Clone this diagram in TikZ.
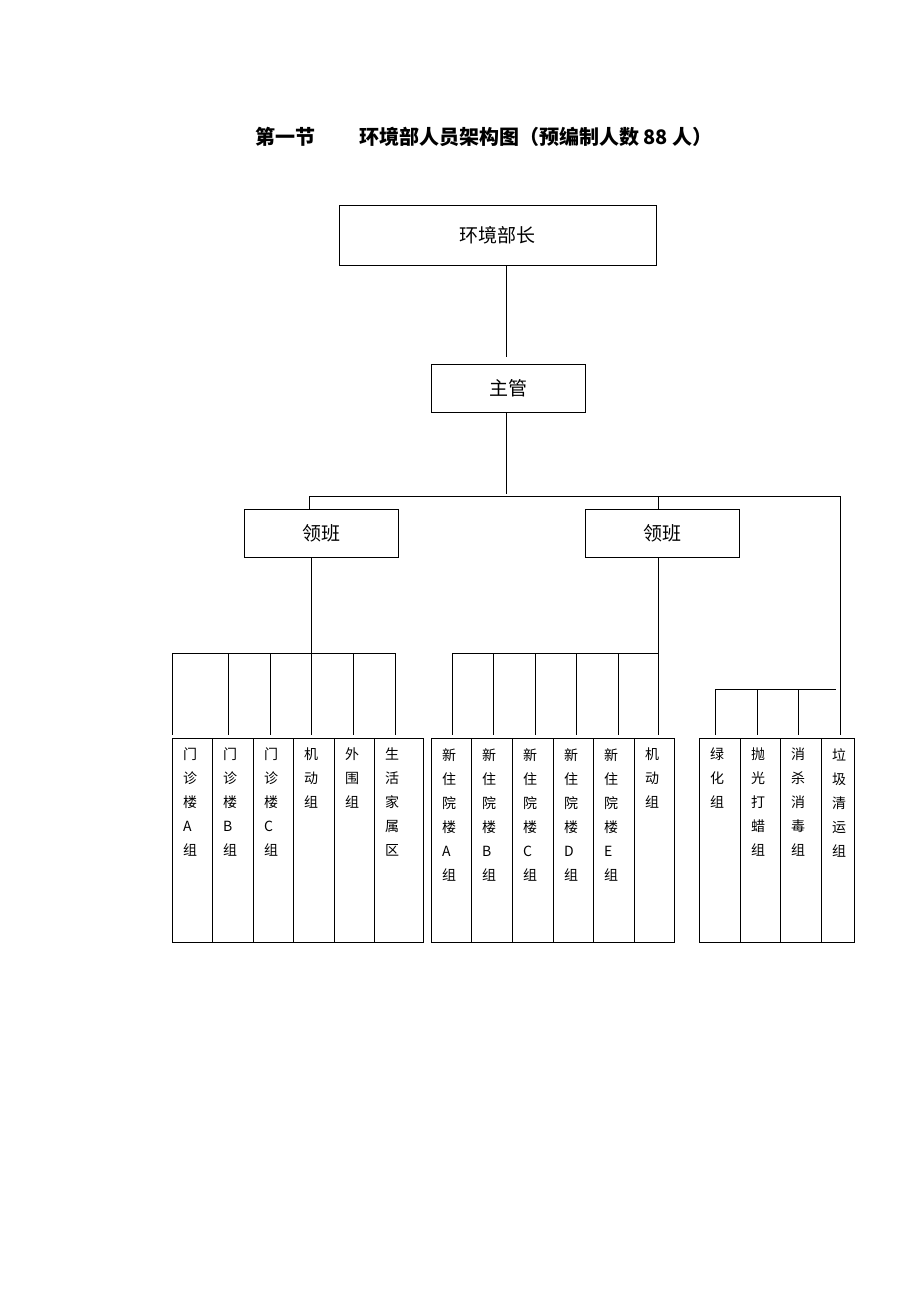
\documentclass[tikz,border=0pt]{standalone}
\usepackage{fontspec}
\setmainfont{Noto Sans CJK SC}
\begin{document}
\begin{tikzpicture}[x=1pt,y=-1pt]
\tikzset{ box/.style={draw, thick, inner sep=0pt, font=\fontsize{19}{22}\selectfont},
          col/.style={draw, inner sep=0pt},
          ctext/.style={anchor=north west, align=left, inner sep=0pt, font=\fontsize{14}{24}\selectfont},
          ln/.style={thick} }
\useasboundingbox (0,0) rectangle (920,1302);

\node [font=\fontsize{20}{22}\selectfont\bfseries] (title) at (484,137) {第一节\hspace{2.2em}环境部人员架构图（预编制人数 88 人）};

\node [box, minimum width=317pt, minimum height=60pt] (B) at (497.5,235) {环境部长};
\node [box, minimum width=154pt, minimum height=48pt] (Z) at (508,388) {主管};
\node [box, minimum width=154pt, minimum height=48pt] (L1) at (321,533) {领班};
\node [box, minimum width=154pt, minimum height=48pt] (L2) at (662,533) {领班};

\coordinate (t1) at (309,496);
\coordinate (t2) at (840,496);
\draw [ln] (B.south -| 506,0) -- (506,357);
\draw [ln] (Z.south -| 506,0) -- (506,494);
\draw [ln] (t1) -- (t2);
\draw [ln] (t1) -- (L1.north -| t1);
\draw [ln] (658,496) -- (L2.north -| 658,0);

% columns
\foreach \n/\a/\b/\t in {
  a1/172/212/{门\\诊\\楼\\A\\组}, a2/212/253/{门\\诊\\楼\\B\\组}, a3/253/293/{门\\诊\\楼\\C\\组},
  a4/293/334/{机\\动\\组}, a5/334/374/{外\\围\\组}, a6/374/423/{生\\活\\家\\属\\区},
  b1/431/471/{新\\住\\院\\楼\\A\\组}, b2/471/512/{新\\住\\院\\楼\\B\\组}, b3/512/553/{新\\住\\院\\楼\\C\\组},
  b4/553/593/{新\\住\\院\\楼\\D\\组}, b5/593/634/{新\\住\\院\\楼\\E\\组}, b6/634/674/{机\\动\\组},
  c1/699/740/{绿\\化\\组}, c2/740/780/{抛\\光\\打\\蜡\\组}, c3/780/821/{消\\杀\\消\\毒\\组}, c4/821/854/{垃\\圾\\清\\运\\组}}
{
  \draw [col] (\a,738) rectangle (\b,942);
  \coordinate (\n) at (\a,738);
  \node [ctext] (\n t) at (\a+11,748) {\t};
}

% left group
\draw [ln] (L1.south -| 311,0) -- (311,735);
\draw [ln] (172,653) -- (395,653);
\foreach \x in {172,228,270,353,395} \draw [ln] (\x,653) -- (\x,735);
% middle group
\draw [ln] (L2.south -| 658,0) -- (658,735);
\draw [ln] (452,653) -- (658,653);
\foreach \x in {452,493,535,576,618} \draw [ln] (\x,653) -- (\x,735);
% right group
\draw [ln] (t2) -- (840,735);
\draw [ln] (715,689) -- (836,689);
\foreach \x in {715,757,798} \draw [ln] (\x,689) -- (\x,735);

\end{tikzpicture}
\end{document}
